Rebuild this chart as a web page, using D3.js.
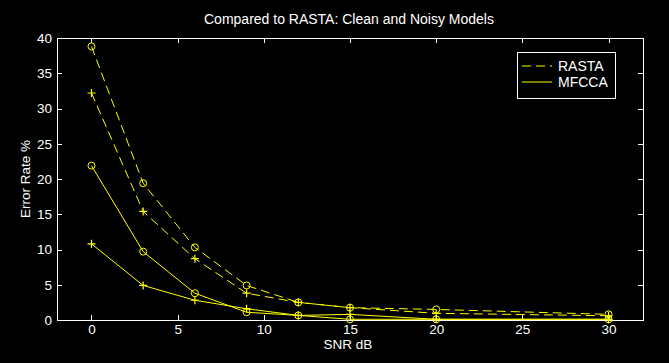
<!DOCTYPE html>
<html><head><meta charset="utf-8">
<script src="https://cdn.jsdelivr.net/npm/d3@7"></script>
<style>html,body{margin:0;padding:0;background:#000;}svg{display:block;}</style>
</head><body>
<svg id="chart" width="669" height="363"></svg>
<script>
const snr = [0, 3, 6, 9, 12, 15, 20, 30];
const rastaClean = [38.8, 19.4, 10.3, 4.9, 2.5, 1.75, 1.5, 0.8];
const rastaNoisy = [32.2, 15.4, 8.7, 3.8, 2.5, 1.75, 0.95, 0.6];
const mfccaClean = [21.9, 9.7, 3.8, 1.1, 0.65, 0.1, 0.1, 0.1];
const mfccaNoisy = [10.8, 4.9, 2.8, 1.6, 0.65, 0.8, 0.1, 0.1];
const xTicks = [0, 5, 10, 15, 20, 25, 30];
const yTicks = [0, 5, 10, 15, 20, 25, 30, 35, 40];
const title = "Compared to RASTA: Clean and Noisy Models";
const xLabel = "SNR dB";
const yLabel = "Error Rate %";
const legendNames = ["RASTA", "MFCCA"];

const series = [
  {vals: rastaClean, dash: "9,5", marker: "circle"},
  {vals: rastaNoisy, dash: "9,5", marker: "plus"},
  {vals: mfccaClean, dash: null, marker: "circle"},
  {vals: mfccaNoisy, dash: null, marker: "plus"}
];

const svg = d3.select("#chart");
const L = 57, R = 643, T = 38, B = 320;
const x = d3.scaleLinear().domain([-2, 32]).range([L, R]);
const y = d3.scaleLinear().domain([0, 40]).range([B, T]);
const font = "'Liberation Sans', Arial, sans-serif";
const yellow = "#ffff00";

svg.append("rect").attr("width", 669).attr("height", 363).attr("fill", "#000");

// axes (MATLAB style box with inward ticks)
const tl = 5;
const gx = svg.append("g").attr("transform", `translate(0,${B})`)
  .call(d3.axisBottom(x).tickValues(xTicks).tickSizeInner(-tl).tickSizeOuter(0).tickPadding(4));
const gxt = svg.append("g").attr("transform", `translate(0,${T})`)
  .call(d3.axisTop(x).tickValues(xTicks).tickSizeInner(-tl).tickSizeOuter(0).tickFormat(""));
const gy = svg.append("g").attr("transform", `translate(${L},0)`)
  .call(d3.axisLeft(y).tickValues(yTicks).tickSizeInner(-tl).tickSizeOuter(0).tickPadding(5));
const gyr = svg.append("g").attr("transform", `translate(${R},0)`)
  .call(d3.axisRight(y).tickValues(yTicks).tickSizeInner(-tl).tickSizeOuter(0).tickFormat(""));
[gx, gxt, gy, gyr].forEach(g => {
  g.selectAll("path.domain").remove();
  g.selectAll("line").attr("stroke", "#fff").attr("shape-rendering", "crispEdges");
  g.selectAll("text").attr("fill", "#fff").style("font-family", font).style("font-size", "13.5px");
});
svg.append("rect").attr("x", L).attr("y", T).attr("width", R - L).attr("height", B - T)
  .attr("fill", "none").attr("stroke", "#fff").attr("shape-rendering", "crispEdges");

// lines
const line = d3.line().x((d, i) => x(snr[i])).y(d => y(d));
const plot = svg.append("g");
series.forEach(s => {
  plot.append("path").datum(s.vals).attr("d", line)
    .attr("fill", "none").attr("stroke", yellow).attr("stroke-width", 1)
    .attr("stroke-dasharray", s.dash);
  const m = plot.append("g");
  s.vals.forEach((v, i) => {
    const cx = x(snr[i]), cy = y(v);
    if (s.marker === "circle") {
      m.append("circle").attr("cx", cx).attr("cy", cy).attr("r", 3.5)
        .attr("fill", "none").attr("stroke", yellow).attr("stroke-width", 1);
    } else {
      m.append("path").attr("d", `M${cx - 4},${cy}H${cx + 4}M${cx},${cy - 4}V${cy + 4}`)
        .attr("stroke", yellow).attr("stroke-width", 1.2);
    }
  });
});

// title & labels
svg.append("text").attr("x", 349).attr("y", 24).attr("text-anchor", "middle")
  .attr("fill", "#fff").style("font-family", font).style("font-size", "14px").text(title);
svg.append("text").attr("x", 348).attr("y", 349).attr("text-anchor", "middle")
  .attr("fill", "#fff").style("font-family", font).style("font-size", "13.5px").text(xLabel);
svg.append("text").attr("transform", `translate(30,${(T + B) / 2}) rotate(-90)`).attr("text-anchor", "middle")
  .attr("fill", "#fff").style("font-family", font).style("font-size", "13.5px").text(yLabel);

// legend
const lg = svg.append("g");
lg.append("rect").attr("x", 517).attr("y", 52).attr("width", 98).attr("height", 46)
  .attr("fill", "#000").attr("stroke", "#fff").attr("shape-rendering", "crispEdges");
legendNames.forEach((n, i) => {
  const ly = 66 + i * 16;
  lg.append("line").attr("x1", 522).attr("x2", 552).attr("y1", ly).attr("y2", ly)
    .attr("stroke", yellow).attr("stroke-dasharray", i === 0 ? "9,5" : null);
  lg.append("text").attr("x", 558).attr("y", ly + 5).attr("fill", "#fff")
    .style("font-family", font).style("font-size", "14px").text(n);
});
</script>
</body></html>
